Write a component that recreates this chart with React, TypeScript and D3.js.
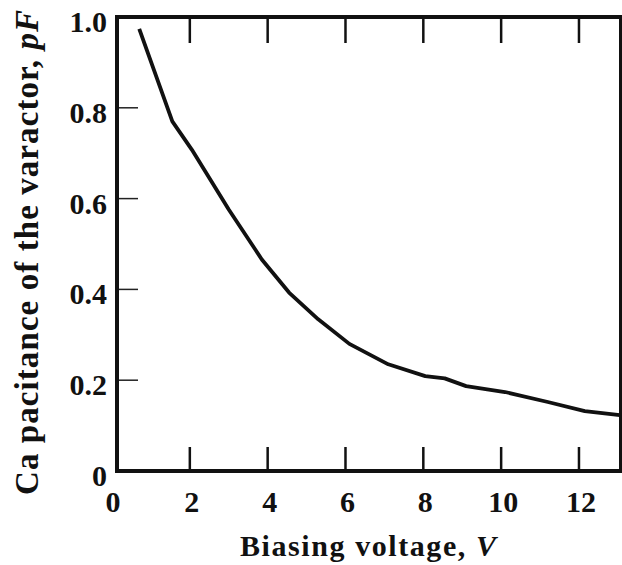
import React from "react";
import * as d3 from "d3";

// biasing voltage (V) and capacitance (pF)
const voltage = [0.7, 1.55, 2.05, 3.0, 3.85, 4.55, 5.3, 6.1, 7.1, 8.05, 8.55, 9.1, 10.1, 11.2, 12.15, 13.05];
const capacitance = [0.974, 0.77, 0.708, 0.576, 0.466, 0.393, 0.334, 0.28, 0.235, 0.209, 0.204, 0.187, 0.174, 0.152, 0.132, 0.123];

const xTicks = [0, 2, 4, 6, 8, 10, 12];
const yTicks = [0, 0.2, 0.4, 0.6, 0.8, 1.0];
const yTickLabels = ["0", "0.2", "0.4", "0.6", "0.8", "1.0"];

const width = 622;
const height = 565;
const font = "'Liberation Serif', 'Times New Roman', serif";

export default function App() {
  const x = d3.scaleLinear().domain([0, 13.08]).range([112, 621]);
  const y = d3.scaleLinear().domain([0, 1]).range([471, 17]);

  const points = voltage.map((v, i) => [v, capacitance[i]] as [number, number]);
  const line = d3.line<[number, number]>()
    .x(d => x(d[0]))
    .y(d => y(d[1]));

  const left = x(0) + 5;
  const right = x.range()[1];
  const top = y(1);
  const bottom = y(0);

  return (
    <svg width={width} height={height} style={{ position: "absolute", left: 0, top: 0, background: "#fff" }}
      fontFamily={font} fontWeight="bold">
      {/* x ticks, bottom and top */}
      {xTicks.filter(t => t > 0).map(t => (
        <g key={"xt" + t} stroke="#111" strokeWidth={2.5}>
          <line x1={x(t)} x2={x(t)} y1={bottom} y2={bottom - 24} />
          <line x1={x(t)} x2={x(t)} y1={top} y2={top + 26} />
        </g>
      ))}
      {/* y ticks */}
      {yTicks.filter(t => t > 0 && t < 1).map(t => (
        <line key={"yt" + t} x1={left} x2={left + 21} y1={y(t)} y2={y(t)} stroke="#222" strokeWidth={1.5} />
      ))}
      {/* frame */}
      <path d={`M${left},${top}H${right}V${bottom}H${left}Z`} fill="none" stroke="#111" strokeWidth={4} />

      {/* curve */}
      <path d={line(points) || ""} fill="none" stroke="#111" strokeWidth={3.8} strokeLinejoin="round" />

      {/* x tick labels */}
      {xTicks.map(t => (
        <text key={"xl" + t} x={x(t) + (t === 0 ? 1 : 2)} y={512} fontSize={30} textAnchor="middle" fill="#111">{t}</text>
      ))}
      {/* y tick labels */}
      {yTicks.map((t, i) => (
        <text key={"yl" + t} x={107} y={y(t) + 15} fontSize={30} textAnchor="end" fill="#111">{yTickLabels[i]}</text>
      ))}

      <text x={240} y={556} fontSize={30} textLength={256} lengthAdjust="spacing" fill="#111">
        Biasing voltage, <tspan fontStyle="italic">V</tspan>
      </text>
      <text transform="translate(38,495) rotate(-90)" fontSize={33} textLength={485} lengthAdjust="spacing" fill="#111">
        Ca pacitance of  the varactor, <tspan fontStyle="italic">pF</tspan>
      </text>
    </svg>
  );
}
